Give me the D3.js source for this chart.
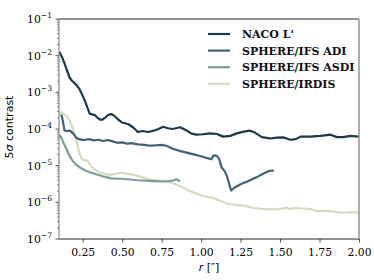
<!DOCTYPE html>
<html>
<head>
<meta charset="utf-8">
<script src="https://cdn.jsdelivr.net/npm/d3@7"></script>
<style>
  body { margin: 0; background: #fff; }
  svg { display: block; }
</style>
</head>
<body>
<div id="chart"></div>
<script>
// data
const nacoR = [0.10,0.12,0.136,0.15,0.168,0.185,0.2,0.215,0.231,0.25,0.263,0.28,0.295,0.31,0.327,0.345,0.36,0.375,0.39,0.41,0.43,0.45,0.47,0.5,0.54,0.57,0.6,0.63,0.665,0.7,0.73,0.76,0.79,0.82,0.866,0.9,0.94,0.97,1.01,1.056,1.1,1.14,1.185,1.226,1.27,1.31,1.34,1.385,1.44,1.48,1.52,1.565,1.6,1.63,1.69,1.755,1.82,1.86,1.9,1.946,2.0];
const nacoC = [1.3e-2,9e-3,6e-3,4e-3,2.5e-3,2e-3,1.75e-3,1.5e-3,1.2e-3,8e-4,6e-4,3.8e-4,2.6e-4,2.5e-4,2.4e-4,2e-4,1.8e-4,1.8e-4,2e-4,2.4e-4,2.55e-4,2.3e-4,1.9e-4,1.5e-4,1.35e-4,1.1e-4,8.3e-5,8.8e-5,8.3e-5,9e-5,1e-4,1.15e-4,1.05e-4,1.0e-4,1.12e-4,9.5e-5,7.5e-5,7e-5,7.2e-5,7.6e-5,7.3e-5,6.2e-5,6.5e-5,7.6e-5,8.5e-5,9e-5,8e-5,6e-5,5.5e-5,5.8e-5,5.9e-5,5.1e-5,5.3e-5,6.2e-5,6.2e-5,6.5e-5,7e-5,6e-5,6e-5,6.5e-5,6.2e-5];

const adiR = [0.115,0.125,0.135,0.15,0.17,0.19,0.21,0.23,0.26,0.29,0.32,0.35,0.38,0.41,0.44,0.47,0.5,0.53,0.56,0.6,0.64,0.68,0.72,0.75,0.78,0.82,0.87,0.92,0.96,1.0,1.04,1.065,1.08,1.1,1.115,1.13,1.15,1.165,1.19,1.21,1.25,1.3,1.35,1.4,1.43,1.46];
const adiC = [2.5e-4,1.6e-4,9e-5,8.8e-5,9e-5,7.5e-5,5.8e-5,5.2e-5,5e-5,5.3e-5,4.9e-5,5.1e-5,4.7e-5,5e-5,4.6e-5,4.2e-5,4.3e-5,4e-5,4.1e-5,3.8e-5,3.7e-5,3.5e-5,3.6e-5,3.7e-5,3.5e-5,2.9e-5,2.5e-5,2.2e-5,2e-5,1.8e-5,1.6e-5,1.5e-5,1.9e-5,1.85e-5,1.5e-5,9e-6,7e-6,5e-6,2.1e-6,2.5e-6,3.1e-6,3.8e-6,4.8e-6,6.2e-6,7.2e-6,7.3e-6];

const asdiR = [0.1,0.115,0.13,0.147,0.168,0.19,0.21,0.24,0.27,0.3,0.33,0.38,0.43,0.49,0.55,0.6,0.65,0.7,0.75,0.8,0.83,0.845,0.866];
const asdiC = [7e-5,5.8e-5,4e-5,2.9e-5,1.8e-5,1.3e-5,1.05e-5,8.5e-6,7.3e-6,6.5e-6,5.9e-6,5.1e-6,4.5e-6,4.4e-6,4.2e-6,4e-6,3.9e-6,3.8e-6,3.7e-6,3.8e-6,4e-6,4.3e-6,3.7e-6];

const irdisR = [0.105,0.115,0.13,0.15,0.168,0.185,0.2,0.215,0.231,0.245,0.26,0.28,0.3,0.32,0.35,0.38,0.42,0.46,0.5,0.54,0.58,0.63,0.68,0.74,0.8,0.84,0.88,0.92,0.97,1.02,1.08,1.12,1.17,1.22,1.28,1.33,1.38,1.45,1.5,1.54,1.56,1.6,1.65,1.7,1.73,1.78,1.82,1.86,1.9,1.95,2.0];
const irdisC = [2.6e-4,2.9e-4,2.6e-4,2.2e-4,1.7e-4,1.1e-4,7e-5,4e-5,2e-5,1.5e-5,1.4e-5,1.4e-5,1e-5,8.2e-6,6.8e-6,6.2e-6,5.6e-6,6e-6,6.4e-6,6e-6,5.5e-6,4.8e-6,4.2e-6,3.9e-6,3.6e-6,3.1e-6,2.6e-6,2.1e-6,1.75e-6,1.45e-6,1.3e-6,1.1e-6,9e-7,8.5e-7,8e-7,7e-7,6.6e-7,6.4e-7,6.6e-7,7.2e-7,6.6e-7,7e-7,6.8e-7,6.5e-7,5.8e-7,5.9e-7,5.7e-7,5.5e-7,5.2e-7,5.4e-7,5.3e-7];

const seriesNames = ["NACO L'", "SPHERE/IFS ADI", "SPHERE/IFS ASDI", "SPHERE/IRDIS"];
const seriesColors = ["#1c3949", "#3f6375", "#7f9c96", "#d3dcbf"];
const xTicks = [0.25, 0.5, 0.75, 1.0, 1.25, 1.5, 1.75, 2.0];
const yExps = [-1, -2, -3, -4, -5, -6, -7];

const series = [
    { name: seriesNames[0], r: nacoR, c: nacoC },
    { name: seriesNames[1], r: adiR, c: adiC },
    { name: seriesNames[2], r: asdiR, c: asdiC },
    { name: seriesNames[3], r: irdisR, c: irdisC }
];

const drawChart = () => {
    const width = 374;
    const height = 280;
    const margin = { top: 19, right: 15, bottom: 41, left: 59 };
    const innerWidth = width - margin.left - margin.right;
    const innerHeight = height - margin.top - margin.bottom;

    const svg = d3.select("#chart")
        .append("svg")
        .attr("width", width)
        .attr("height", height);

    const inner = svg.append("g")
        .attr("transform", `translate(${margin.left}, ${margin.top})`);

    const xScale = d3.scaleLinear().domain([0.1, 2.0]).range([0, innerWidth]);
    const yScale = d3.scaleLog().domain([1e-7, 1e-1]).range([innerHeight, 0]);

    svg.append("defs").append("clipPath").attr("id", "clip")
        .append("rect").attr("width", innerWidth).attr("height", innerHeight);

    const line = d3.line()
        .x(d => xScale(d[0]))
        .y(d => yScale(d[1]));

    const lines = inner.append("g").attr("clip-path", "url(#clip)");
    // draw light ones first so dark ones sit on top
    [3, 2, 1, 0].forEach(i => {
        const s = series[i];
        lines.append("path")
            .datum(d3.zip(s.r, s.c))
            .attr("d", line)
            .attr("fill", "none")
            .attr("stroke", seriesColors[i])
            .attr("stroke-width", 2.2)
            .attr("stroke-linejoin", "round");
    });

    // x axis
    const bottomAxis = d3.axisBottom(xScale)
        .tickValues(xTicks)
        .tickFormat(d3.format(".2f"))
        .tickSize(3.5)
        .tickSizeOuter(0);
    const xAxis = inner.append("g")
        .attr("transform", `translate(0, ${innerHeight})`)
        .call(bottomAxis);
    xAxis.select(".domain").remove();
    xAxis.selectAll("line").attr("stroke", "#222").attr("stroke-width", 0.8);
    xAxis.selectAll("text")
        .attr("font-family", "DejaVu Serif")
        .attr("font-size", 10.8)
        .attr("fill", "#000")
        .attr("dy", "0.95em");

    // y axis minor ticks
    const minor = [];
    yExps.slice(1).forEach(e => {
        for (let k = 2; k <= 9; k++) minor.push(k * Math.pow(10, e));
    });
    inner.append("g").selectAll("line")
        .data(minor)
        .join("line")
        .attr("x1", -2).attr("x2", 0)
        .attr("y1", d => yScale(d)).attr("y2", d => yScale(d))
        .attr("stroke", "#333").attr("stroke-width", 0.6);

    const yAxis = inner.append("g");
    yAxis.selectAll("line")
        .data(yExps)
        .join("line")
        .attr("x1", -3.5).attr("x2", 0)
        .attr("y1", d => yScale(Math.pow(10, d))).attr("y2", d => yScale(Math.pow(10, d)))
        .attr("stroke", "#222").attr("stroke-width", 0.8);
    const yLabels = yAxis.selectAll("text")
        .data(yExps)
        .join("text")
        .attr("x", -7)
        .attr("y", d => yScale(Math.pow(10, d)) + 4)
        .attr("text-anchor", "end")
        .attr("font-family", "DejaVu Serif")
        .attr("font-size", 10.8)
        .attr("fill", "#000");
    yLabels.append("tspan").text("10");
    yLabels.append("tspan")
        .attr("dy", -5)
        .attr("font-size", 7.6)
        .text(d => "\u2212" + Math.abs(d));

    // spines
    inner.append("line").attr("x1", 0).attr("x2", innerWidth).attr("y1", 0).attr("y2", 0)
        .attr("stroke", "#222").attr("stroke-width", 1);
    inner.append("line").attr("x1", 0).attr("x2", innerWidth).attr("y1", innerHeight).attr("y2", innerHeight)
        .attr("stroke", "#222").attr("stroke-width", 1);
    inner.append("line").attr("x1", 0).attr("x2", 0).attr("y1", 0).attr("y2", innerHeight)
        .attr("stroke", "#888").attr("stroke-width", 1.2);
    inner.append("line").attr("x1", innerWidth).attr("x2", innerWidth).attr("y1", 0).attr("y2", innerHeight)
        .attr("stroke", "#999").attr("stroke-width", 1.6);

    // axis titles
    const xTitle = svg.append("text")
        .attr("x", margin.left + innerWidth / 2)
        .attr("y", 271)
        .attr("text-anchor", "middle")
        .attr("font-family", "DejaVu Sans")
        .attr("font-size", 11)
        .attr("fill", "#000");
    xTitle.append("tspan").attr("font-style", "italic").text("r");
    xTitle.append("tspan").text(" [\u2033]");

    const yTitle = svg.append("text")
        .attr("transform", `translate(13, ${margin.top + innerHeight / 2 - 2}) rotate(-90)`)
        .attr("text-anchor", "middle")
        .attr("font-family", "DejaVu Sans")
        .attr("font-size", 11)
        .attr("fill", "#000");
    yTitle.append("tspan").text("5");
    yTitle.append("tspan").attr("font-style", "italic").text("\u03c3");
    yTitle.append("tspan").text(" contrast");

    // legend
    const legend = svg.append("g").attr("transform", "translate(208, 34)");
    seriesNames.forEach((name, i) => {
        const row = legend.append("g").attr("transform", `translate(0, ${i * 16.6})`);
        row.append("line")
            .attr("x1", 0).attr("x2", 22)
            .attr("stroke", seriesColors[i])
            .attr("stroke-width", 2.2);
        row.append("text")
            .attr("x", 34)
            .attr("y", 4)
            .attr("font-family", "DejaVu Serif")
            .attr("font-weight", "bold")
            .attr("font-size", 11)
            .attr("fill", "#111")
            .text(name);
    });
};

drawChart();
</script>
</body>
</html>
